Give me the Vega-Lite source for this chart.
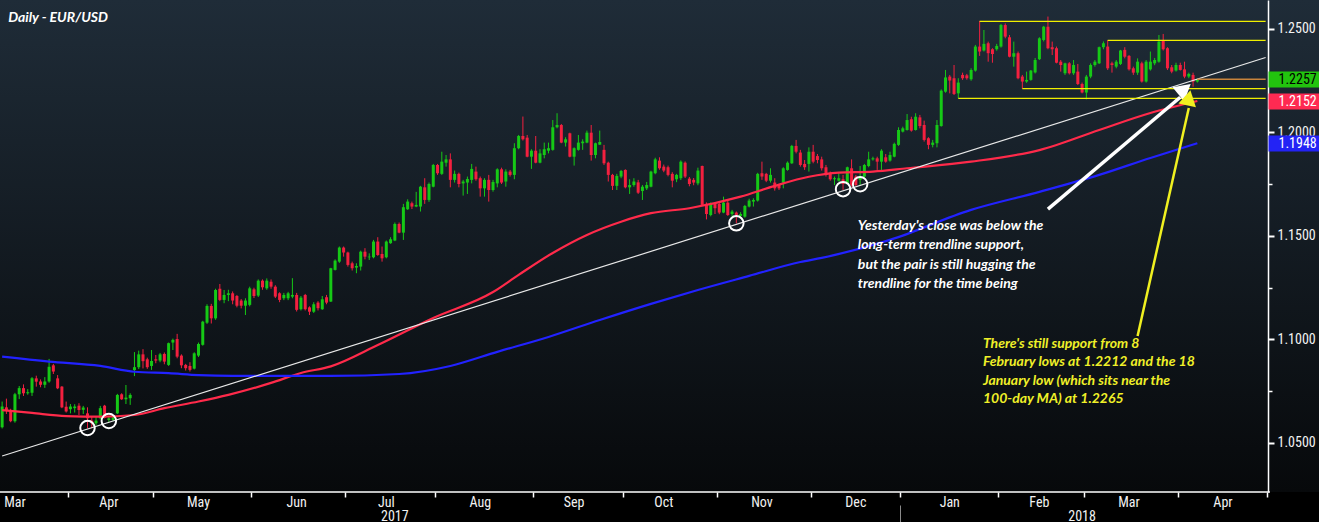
{
"$schema":"https://vega.github.io/schema/vega-lite/v6.json",
"width":1319,"height":492,
"autosize":{"type":"none"},
"padding":{"left":0,"top":0,"right":0,"bottom":30},
"background":"#000000",
"config":{
 "view":{"stroke":null,"fill":{"gradient":"linear","x1":0,"y1":0,"x2":0,"y2":1,"stops":[{"offset":0,"color":"#1f2c38"},{"offset":1,"color":"#07090b"}]}},
 "axis":{"grid":false,"title":null,"labelFont":"Liberation Sans Narrow, Roboto Condensed, Arial Narrow, Roboto, sans-serif","labelColor":"#f2f2f2","labelFontSize":14,"labelOverlap":false,"labelFlush":false}
},
"datasets":{
"candles":[
{"d":"2017-03-10","o":1.0576,"h":1.0700,"l":1.0570,"c":1.0676},
{"d":"2017-03-13","o":1.0672,"h":1.0714,"l":1.0640,"c":1.0655},
{"d":"2017-03-14","o":1.0655,"h":1.0665,"l":1.0600,"c":1.0605},
{"d":"2017-03-15","o":1.0605,"h":1.0742,"l":1.0598,"c":1.0735},
{"d":"2017-03-16","o":1.0735,"h":1.0775,"l":1.0712,"c":1.0765},
{"d":"2017-03-17","o":1.0765,"h":1.0783,"l":1.0727,"c":1.0740},
{"d":"2017-03-20","o":1.0740,"h":1.0760,"l":1.0733,"c":1.0745},
{"d":"2017-03-21","o":1.0742,"h":1.0818,"l":1.0727,"c":1.0812},
{"d":"2017-03-22","o":1.0812,"h":1.0825,"l":1.0772,"c":1.0796},
{"d":"2017-03-23","o":1.0797,"h":1.0807,"l":1.0769,"c":1.0781},
{"d":"2017-03-24","o":1.0781,"h":1.0818,"l":1.0766,"c":1.0797},
{"d":"2017-03-27","o":1.0797,"h":1.0906,"l":1.0791,"c":1.0868},
{"d":"2017-03-28","o":1.0875,"h":1.0882,"l":1.0833,"c":1.0845},
{"d":"2017-03-29","o":1.0812,"h":1.0828,"l":1.0760,"c":1.0764},
{"d":"2017-03-30","o":1.0772,"h":1.0775,"l":1.0668,"c":1.0672},
{"d":"2017-03-31","o":1.0675,"h":1.0700,"l":1.0647,"c":1.0652},
{"d":"2017-04-03","o":1.0663,"h":1.0688,"l":1.0643,"c":1.0676},
{"d":"2017-04-04","o":1.0668,"h":1.0687,"l":1.0647,"c":1.0676},
{"d":"2017-04-05","o":1.0680,"h":1.0692,"l":1.0635,"c":1.0659},
{"d":"2017-04-06","o":1.0660,"h":1.0679,"l":1.0640,"c":1.0671},
{"d":"2017-04-07","o":1.0643,"h":1.0672,"l":1.0571,"c":1.0619},
{"d":"2017-04-10","o":1.0608,"h":1.0627,"l":1.0571,"c":1.0595},
{"d":"2017-04-11","o":1.0595,"h":1.0627,"l":1.0587,"c":1.0608},
{"d":"2017-04-12","o":1.0619,"h":1.0679,"l":1.0614,"c":1.0668},
{"d":"2017-04-13","o":1.0680,"h":1.0684,"l":1.0619,"c":1.0622},
{"d":"2017-04-14","o":1.0611,"h":1.0627,"l":1.0600,"c":1.0619},
{"d":"2017-04-17","o":1.0611,"h":1.0630,"l":1.0606,"c":1.0624},
{"d":"2017-04-18","o":1.0643,"h":1.0737,"l":1.0640,"c":1.0732},
{"d":"2017-04-19","o":1.0735,"h":1.0740,"l":1.0708,"c":1.0711},
{"d":"2017-04-20","o":1.0711,"h":1.0780,"l":1.0688,"c":1.0719},
{"d":"2017-04-21","o":1.0716,"h":1.0740,"l":1.0684,"c":1.0732},
{"d":"2017-04-24","o":1.0852,"h":1.0939,"l":1.0823,"c":1.0866},
{"d":"2017-04-25","o":1.0866,"h":1.0946,"l":1.0857,"c":1.0928},
{"d":"2017-04-26","o":1.0928,"h":1.0953,"l":1.0860,"c":1.0895},
{"d":"2017-04-27","o":1.0904,"h":1.0912,"l":1.0858,"c":1.0866},
{"d":"2017-04-28","o":1.0872,"h":1.0949,"l":1.0853,"c":1.0896},
{"d":"2017-05-01","o":1.0904,"h":1.0925,"l":1.0885,"c":1.0898},
{"d":"2017-05-02","o":1.0898,"h":1.0935,"l":1.0890,"c":1.0928},
{"d":"2017-05-03","o":1.0930,"h":1.0937,"l":1.0880,"c":1.0893},
{"d":"2017-05-04","o":1.0877,"h":1.0985,"l":1.0872,"c":1.0982},
{"d":"2017-05-05","o":1.0985,"h":1.1004,"l":1.0949,"c":1.0998},
{"d":"2017-05-08","o":1.1002,"h":1.1027,"l":1.0909,"c":1.0917},
{"d":"2017-05-09","o":1.0922,"h":1.0928,"l":1.0861,"c":1.0875},
{"d":"2017-05-10","o":1.0877,"h":1.0882,"l":1.0850,"c":1.0861},
{"d":"2017-05-11","o":1.0872,"h":1.0890,"l":1.0845,"c":1.0853},
{"d":"2017-05-12","o":1.0859,"h":1.0938,"l":1.0855,"c":1.0933},
{"d":"2017-05-15","o":1.0922,"h":1.0985,"l":1.0915,"c":1.0978},
{"d":"2017-05-16","o":1.0974,"h":1.1090,"l":1.0970,"c":1.1086},
{"d":"2017-05-17","o":1.1081,"h":1.1170,"l":1.1075,"c":1.1162},
{"d":"2017-05-18","o":1.1162,"h":1.1172,"l":1.1077,"c":1.1102},
{"d":"2017-05-19","o":1.1102,"h":1.1245,"l":1.1095,"c":1.1239},
{"d":"2017-05-22","o":1.1245,"h":1.1268,"l":1.1185,"c":1.1191},
{"d":"2017-05-23","o":1.1191,"h":1.1239,"l":1.1175,"c":1.1215},
{"d":"2017-05-24","o":1.1215,"h":1.1240,"l":1.1185,"c":1.1223},
{"d":"2017-05-25","o":1.1223,"h":1.1232,"l":1.1170,"c":1.1188},
{"d":"2017-05-26","o":1.1210,"h":1.1215,"l":1.1155,"c":1.1163},
{"d":"2017-05-29","o":1.1188,"h":1.1195,"l":1.1150,"c":1.1163},
{"d":"2017-05-30","o":1.1163,"h":1.1199,"l":1.1118,"c":1.1188},
{"d":"2017-05-31","o":1.1167,"h":1.1255,"l":1.1160,"c":1.1247},
{"d":"2017-06-01","o":1.1242,"h":1.1250,"l":1.1200,"c":1.1210},
{"d":"2017-06-02","o":1.1212,"h":1.1290,"l":1.1205,"c":1.1284},
{"d":"2017-06-05","o":1.1284,"h":1.1290,"l":1.1240,"c":1.1252},
{"d":"2017-06-06","o":1.1247,"h":1.1295,"l":1.1240,"c":1.1284},
{"d":"2017-06-07","o":1.1279,"h":1.1290,"l":1.1245,"c":1.1255},
{"d":"2017-06-08","o":1.1255,"h":1.1262,"l":1.1200,"c":1.1207},
{"d":"2017-06-09","o":1.1223,"h":1.1228,"l":1.1180,"c":1.1191},
{"d":"2017-06-12","o":1.1199,"h":1.1225,"l":1.1190,"c":1.1215},
{"d":"2017-06-13","o":1.1199,"h":1.1230,"l":1.1190,"c":1.1223},
{"d":"2017-06-14","o":1.1207,"h":1.1296,"l":1.1199,"c":1.1215},
{"d":"2017-06-15","o":1.1215,"h":1.1225,"l":1.1135,"c":1.1143},
{"d":"2017-06-16","o":1.1146,"h":1.1210,"l":1.1140,"c":1.1202},
{"d":"2017-06-19","o":1.1215,"h":1.1220,"l":1.1140,"c":1.1146},
{"d":"2017-06-20","o":1.1155,"h":1.1160,"l":1.1118,"c":1.1134},
{"d":"2017-06-21","o":1.1134,"h":1.1180,"l":1.1128,"c":1.1170},
{"d":"2017-06-22","o":1.1178,"h":1.1185,"l":1.1140,"c":1.1151},
{"d":"2017-06-23","o":1.1146,"h":1.1210,"l":1.1143,"c":1.1194},
{"d":"2017-06-26","o":1.1204,"h":1.1215,"l":1.1170,"c":1.1178},
{"d":"2017-06-27","o":1.1183,"h":1.1346,"l":1.1181,"c":1.1344},
{"d":"2017-06-28","o":1.1336,"h":1.1387,"l":1.1333,"c":1.1381},
{"d":"2017-06-29","o":1.1376,"h":1.1449,"l":1.1370,"c":1.1444},
{"d":"2017-06-30","o":1.1444,"h":1.1449,"l":1.1400,"c":1.1420},
{"d":"2017-07-03","o":1.1420,"h":1.1424,"l":1.1352,"c":1.1360},
{"d":"2017-07-04","o":1.1368,"h":1.1376,"l":1.1333,"c":1.1344},
{"d":"2017-07-05","o":1.1347,"h":1.1368,"l":1.1320,"c":1.1355},
{"d":"2017-07-06","o":1.1352,"h":1.1429,"l":1.1333,"c":1.1424},
{"d":"2017-07-07","o":1.1424,"h":1.1441,"l":1.1387,"c":1.1400},
{"d":"2017-07-10","o":1.1397,"h":1.1416,"l":1.1384,"c":1.1400},
{"d":"2017-07-11","o":1.1397,"h":1.1481,"l":1.1392,"c":1.1473},
{"d":"2017-07-12","o":1.1473,"h":1.1494,"l":1.1404,"c":1.1408},
{"d":"2017-07-13","o":1.1413,"h":1.1449,"l":1.1376,"c":1.1392},
{"d":"2017-07-14","o":1.1397,"h":1.1478,"l":1.1392,"c":1.1473},
{"d":"2017-07-17","o":1.1465,"h":1.1494,"l":1.1462,"c":1.1484},
{"d":"2017-07-18","o":1.1478,"h":1.1565,"l":1.1475,"c":1.1558},
{"d":"2017-07-19","o":1.1558,"h":1.1565,"l":1.1513,"c":1.1516},
{"d":"2017-07-20","o":1.1516,"h":1.1655,"l":1.1481,"c":1.1639},
{"d":"2017-07-21","o":1.1629,"h":1.1677,"l":1.1626,"c":1.1666},
{"d":"2017-07-24","o":1.1658,"h":1.1666,"l":1.1630,"c":1.1642},
{"d":"2017-07-25","o":1.1642,"h":1.1713,"l":1.1639,"c":1.1650},
{"d":"2017-07-26","o":1.1642,"h":1.1742,"l":1.1618,"c":1.1738},
{"d":"2017-07-27","o":1.1735,"h":1.1779,"l":1.1655,"c":1.1674},
{"d":"2017-07-28","o":1.1674,"h":1.1758,"l":1.1665,"c":1.1751},
{"d":"2017-07-31","o":1.1738,"h":1.1848,"l":1.1735,"c":1.1843},
{"d":"2017-08-01","o":1.1843,"h":1.1848,"l":1.1795,"c":1.1803},
{"d":"2017-08-02","o":1.1800,"h":1.1907,"l":1.1795,"c":1.1859},
{"d":"2017-08-03","o":1.1854,"h":1.1891,"l":1.1835,"c":1.1870},
{"d":"2017-08-04","o":1.1870,"h":1.1899,"l":1.1735,"c":1.1771},
{"d":"2017-08-07","o":1.1771,"h":1.1816,"l":1.1758,"c":1.1800},
{"d":"2017-08-08","o":1.1800,"h":1.1806,"l":1.1735,"c":1.1751},
{"d":"2017-08-09","o":1.1754,"h":1.1771,"l":1.1695,"c":1.1763},
{"d":"2017-08-10","o":1.1758,"h":1.1787,"l":1.1703,"c":1.1775},
{"d":"2017-08-11","o":1.1771,"h":1.1848,"l":1.1754,"c":1.1824},
{"d":"2017-08-14","o":1.1811,"h":1.1835,"l":1.1767,"c":1.1774},
{"d":"2017-08-15","o":1.1779,"h":1.1787,"l":1.1690,"c":1.1730},
{"d":"2017-08-16","o":1.1730,"h":1.1779,"l":1.1690,"c":1.1771},
{"d":"2017-08-17","o":1.1771,"h":1.1795,"l":1.1666,"c":1.1722},
{"d":"2017-08-18","o":1.1722,"h":1.1771,"l":1.1714,"c":1.1761},
{"d":"2017-08-21","o":1.1754,"h":1.1827,"l":1.1735,"c":1.1822},
{"d":"2017-08-22","o":1.1822,"h":1.1830,"l":1.1751,"c":1.1758},
{"d":"2017-08-23","o":1.1763,"h":1.1822,"l":1.1738,"c":1.1811},
{"d":"2017-08-24","o":1.1811,"h":1.1819,"l":1.1787,"c":1.1795},
{"d":"2017-08-25","o":1.1795,"h":1.1948,"l":1.1774,"c":1.1924},
{"d":"2017-08-28","o":1.1924,"h":1.1988,"l":1.1919,"c":1.1983},
{"d":"2017-08-29","o":1.1983,"h":1.2077,"l":1.1961,"c":1.1967},
{"d":"2017-08-30","o":1.1975,"h":1.1988,"l":1.1880,"c":1.1883},
{"d":"2017-08-31","o":1.1883,"h":1.1919,"l":1.1824,"c":1.1912},
{"d":"2017-09-01","o":1.1912,"h":1.1983,"l":1.1851,"c":1.1854},
{"d":"2017-09-04","o":1.1854,"h":1.1919,"l":1.1851,"c":1.1899},
{"d":"2017-09-05","o":1.1891,"h":1.1951,"l":1.1875,"c":1.1919},
{"d":"2017-09-06","o":1.1912,"h":1.1951,"l":1.1899,"c":1.1924},
{"d":"2017-09-07","o":1.1916,"h":1.2060,"l":1.1912,"c":1.2025},
{"d":"2017-09-08","o":1.2025,"h":1.2093,"l":1.2020,"c":1.2036},
{"d":"2017-09-11","o":1.2036,"h":1.2041,"l":1.1948,"c":1.1951},
{"d":"2017-09-12","o":1.1951,"h":1.1977,"l":1.1932,"c":1.1967},
{"d":"2017-09-13","o":1.1996,"h":1.1999,"l":1.1880,"c":1.1883},
{"d":"2017-09-14","o":1.1883,"h":1.1928,"l":1.1840,"c":1.1924},
{"d":"2017-09-15","o":1.1916,"h":1.1988,"l":1.1912,"c":1.1951},
{"d":"2017-09-18","o":1.1948,"h":1.1967,"l":1.1916,"c":1.1956},
{"d":"2017-09-19","o":1.1951,"h":1.2009,"l":1.1948,"c":1.1999},
{"d":"2017-09-20","o":1.1999,"h":1.2036,"l":1.1864,"c":1.1891},
{"d":"2017-09-21","o":1.1891,"h":1.1951,"l":1.1875,"c":1.1948},
{"d":"2017-09-22","o":1.1941,"h":1.2009,"l":1.1940,"c":1.1954},
{"d":"2017-09-25","o":1.1916,"h":1.1940,"l":1.1843,"c":1.1851},
{"d":"2017-09-26","o":1.1854,"h":1.1859,"l":1.1763,"c":1.1795},
{"d":"2017-09-27","o":1.1795,"h":1.1800,"l":1.1722,"c":1.1742},
{"d":"2017-09-28","o":1.1742,"h":1.1800,"l":1.1722,"c":1.1790},
{"d":"2017-09-29","o":1.1787,"h":1.1819,"l":1.1779,"c":1.1814},
{"d":"2017-10-02","o":1.1819,"h":1.1822,"l":1.1730,"c":1.1735},
{"d":"2017-10-03","o":1.1735,"h":1.1774,"l":1.1703,"c":1.1746},
{"d":"2017-10-04","o":1.1746,"h":1.1779,"l":1.1738,"c":1.1763},
{"d":"2017-10-05","o":1.1759,"h":1.1771,"l":1.1703,"c":1.1709},
{"d":"2017-10-06","o":1.1717,"h":1.1746,"l":1.1674,"c":1.1738},
{"d":"2017-10-09","o":1.1730,"h":1.1761,"l":1.1722,"c":1.1746},
{"d":"2017-10-10","o":1.1738,"h":1.1815,"l":1.1735,"c":1.1811},
{"d":"2017-10-11","o":1.1803,"h":1.1878,"l":1.1798,"c":1.1870},
{"d":"2017-10-12","o":1.1864,"h":1.1880,"l":1.1820,"c":1.1827},
{"d":"2017-10-13","o":1.1835,"h":1.1845,"l":1.1808,"c":1.1816},
{"d":"2017-10-16","o":1.1832,"h":1.1840,"l":1.1788,"c":1.1795},
{"d":"2017-10-17","o":1.1800,"h":1.1808,"l":1.1735,"c":1.1767},
{"d":"2017-10-18","o":1.1774,"h":1.1800,"l":1.1760,"c":1.1795},
{"d":"2017-10-19","o":1.1779,"h":1.1865,"l":1.1770,"c":1.1859},
{"d":"2017-10-20","o":1.1854,"h":1.1860,"l":1.1780,"c":1.1787},
{"d":"2017-10-23","o":1.1777,"h":1.1785,"l":1.1740,"c":1.1751},
{"d":"2017-10-24","o":1.1771,"h":1.1780,"l":1.1745,"c":1.1758},
{"d":"2017-10-25","o":1.1754,"h":1.1830,"l":1.1745,"c":1.1816},
{"d":"2017-10-26","o":1.1838,"h":1.1840,"l":1.1645,"c":1.1650},
{"d":"2017-10-27","o":1.1655,"h":1.1662,"l":1.1580,"c":1.1606},
{"d":"2017-10-30","o":1.1601,"h":1.1662,"l":1.1595,"c":1.1655},
{"d":"2017-10-31","o":1.1655,"h":1.1661,"l":1.1606,"c":1.1634},
{"d":"2017-11-01","o":1.1655,"h":1.1660,"l":1.1605,"c":1.1613},
{"d":"2017-11-02","o":1.1613,"h":1.1690,"l":1.1610,"c":1.1661},
{"d":"2017-11-03","o":1.1661,"h":1.1677,"l":1.1597,"c":1.1601},
{"d":"2017-11-06","o":1.1606,"h":1.1626,"l":1.1593,"c":1.1618},
{"d":"2017-11-07","o":1.1613,"h":1.1618,"l":1.1561,"c":1.1601},
{"d":"2017-11-08","o":1.1597,"h":1.1615,"l":1.1590,"c":1.1606},
{"d":"2017-11-09","o":1.1593,"h":1.1650,"l":1.1588,"c":1.1645},
{"d":"2017-11-10","o":1.1642,"h":1.1680,"l":1.1638,"c":1.1671},
{"d":"2017-11-13","o":1.1666,"h":1.1682,"l":1.1642,"c":1.1674},
{"d":"2017-11-14","o":1.1671,"h":1.1805,"l":1.1666,"c":1.1800},
{"d":"2017-11-15","o":1.1803,"h":1.1859,"l":1.1771,"c":1.1787},
{"d":"2017-11-16","o":1.1800,"h":1.1805,"l":1.1760,"c":1.1767},
{"d":"2017-11-17","o":1.1767,"h":1.1827,"l":1.1758,"c":1.1795},
{"d":"2017-11-20","o":1.1758,"h":1.1779,"l":1.1719,"c":1.1730},
{"d":"2017-11-21","o":1.1746,"h":1.1750,"l":1.1722,"c":1.1730},
{"d":"2017-11-22","o":1.1758,"h":1.1832,"l":1.1730,"c":1.1827},
{"d":"2017-11-23","o":1.1819,"h":1.1860,"l":1.1815,"c":1.1854},
{"d":"2017-11-24","o":1.1851,"h":1.1940,"l":1.1848,"c":1.1935},
{"d":"2017-11-27","o":1.1935,"h":1.1964,"l":1.1899,"c":1.1907},
{"d":"2017-11-28","o":1.1903,"h":1.1916,"l":1.1835,"c":1.1843},
{"d":"2017-11-29","o":1.1848,"h":1.1867,"l":1.1819,"c":1.1832},
{"d":"2017-11-30","o":1.1848,"h":1.1928,"l":1.1811,"c":1.1907},
{"d":"2017-12-01","o":1.1907,"h":1.1940,"l":1.1851,"c":1.1859},
{"d":"2017-12-04","o":1.1886,"h":1.1896,"l":1.1851,"c":1.1867},
{"d":"2017-12-05","o":1.1870,"h":1.1883,"l":1.1816,"c":1.1827},
{"d":"2017-12-06","o":1.1832,"h":1.1843,"l":1.1787,"c":1.1795},
{"d":"2017-12-07","o":1.1803,"h":1.1811,"l":1.1767,"c":1.1774},
{"d":"2017-12-08","o":1.1774,"h":1.1787,"l":1.1746,"c":1.1779},
{"d":"2017-12-11","o":1.1767,"h":1.1803,"l":1.1763,"c":1.1779},
{"d":"2017-12-12","o":1.1774,"h":1.1795,"l":1.1722,"c":1.1751},
{"d":"2017-12-13","o":1.1754,"h":1.1835,"l":1.1751,"c":1.1832},
{"d":"2017-12-14","o":1.1827,"h":1.1870,"l":1.1738,"c":1.1746},
{"d":"2017-12-15","o":1.1787,"h":1.1795,"l":1.1740,"c":1.1746},
{"d":"2017-12-18","o":1.1771,"h":1.1838,"l":1.1746,"c":1.1787},
{"d":"2017-12-19","o":1.1787,"h":1.1848,"l":1.1779,"c":1.1843},
{"d":"2017-12-20","o":1.1838,"h":1.1907,"l":1.1832,"c":1.1870},
{"d":"2017-12-21","o":1.1870,"h":1.1883,"l":1.1864,"c":1.1875},
{"d":"2017-12-22","o":1.1875,"h":1.1883,"l":1.1819,"c":1.1859},
{"d":"2017-12-25","o":1.1859,"h":1.1919,"l":1.1819,"c":1.1912},
{"d":"2017-12-26","o":1.1880,"h":1.1896,"l":1.1854,"c":1.1859},
{"d":"2017-12-27","o":1.1864,"h":1.1907,"l":1.1859,"c":1.1891},
{"d":"2017-12-28","o":1.1883,"h":1.1951,"l":1.1880,"c":1.1945},
{"d":"2017-12-29","o":1.1940,"h":1.2025,"l":1.1935,"c":1.2012},
{"d":"2018-01-01","o":1.2004,"h":1.2028,"l":1.2000,"c":1.2020},
{"d":"2018-01-02","o":1.2012,"h":1.2089,"l":1.2009,"c":1.2060},
{"d":"2018-01-03","o":1.2064,"h":1.2076,"l":1.2004,"c":1.2009},
{"d":"2018-01-04","o":1.2012,"h":1.2093,"l":1.2009,"c":1.2076},
{"d":"2018-01-05","o":1.2073,"h":1.2085,"l":1.2020,"c":1.2031},
{"d":"2018-01-08","o":1.2036,"h":1.2057,"l":1.1956,"c":1.1964},
{"d":"2018-01-09","o":1.1972,"h":1.1977,"l":1.1919,"c":1.1940},
{"d":"2018-01-10","o":1.1940,"h":1.1964,"l":1.1928,"c":1.1951},
{"d":"2018-01-11","o":1.1948,"h":1.2060,"l":1.1928,"c":1.2036},
{"d":"2018-01-12","o":1.2031,"h":1.2208,"l":1.2028,"c":1.2202},
{"d":"2018-01-15","o":1.2197,"h":1.2302,"l":1.2192,"c":1.2266},
{"d":"2018-01-16","o":1.2270,"h":1.2278,"l":1.2189,"c":1.2251},
{"d":"2018-01-17","o":1.2262,"h":1.2326,"l":1.2181,"c":1.2186},
{"d":"2018-01-18","o":1.2189,"h":1.2262,"l":1.2165,"c":1.2241},
{"d":"2018-01-19","o":1.2278,"h":1.2289,"l":1.2254,"c":1.2262},
{"d":"2018-01-22","o":1.2276,"h":1.2283,"l":1.2255,"c":1.2262},
{"d":"2018-01-23","o":1.2257,"h":1.2310,"l":1.2250,"c":1.2302},
{"d":"2018-01-24","o":1.2299,"h":1.2423,"l":1.2294,"c":1.2415},
{"d":"2018-01-25","o":1.2415,"h":1.2539,"l":1.2370,"c":1.2391},
{"d":"2018-01-26","o":1.2396,"h":1.2495,"l":1.2391,"c":1.2428},
{"d":"2018-01-29","o":1.2431,"h":1.2439,"l":1.2342,"c":1.2383},
{"d":"2018-01-30","o":1.2402,"h":1.2407,"l":1.2337,"c":1.2379},
{"d":"2018-01-31","o":1.2402,"h":1.2428,"l":1.2395,"c":1.2418},
{"d":"2018-02-01","o":1.2415,"h":1.2524,"l":1.2410,"c":1.2519},
{"d":"2018-02-02","o":1.2519,"h":1.2527,"l":1.2455,"c":1.2463},
{"d":"2018-02-05","o":1.2460,"h":1.2471,"l":1.2363,"c":1.2366},
{"d":"2018-02-06","o":1.2366,"h":1.2439,"l":1.2318,"c":1.2383},
{"d":"2018-02-07","o":1.2383,"h":1.2391,"l":1.2257,"c":1.2262},
{"d":"2018-02-08","o":1.2270,"h":1.2278,"l":1.2212,"c":1.2246},
{"d":"2018-02-09","o":1.2246,"h":1.2294,"l":1.2240,"c":1.2254},
{"d":"2018-02-12","o":1.2254,"h":1.2302,"l":1.2250,"c":1.2299},
{"d":"2018-02-13","o":1.2290,"h":1.2360,"l":1.2285,"c":1.2350},
{"d":"2018-02-14","o":1.2354,"h":1.2460,"l":1.2350,"c":1.2455},
{"d":"2018-02-15","o":1.2447,"h":1.2515,"l":1.2440,"c":1.2511},
{"d":"2018-02-16","o":1.2511,"h":1.2560,"l":1.2402,"c":1.2407},
{"d":"2018-02-19","o":1.2412,"h":1.2439,"l":1.2374,"c":1.2402},
{"d":"2018-02-20","o":1.2407,"h":1.2415,"l":1.2334,"c":1.2337},
{"d":"2018-02-21","o":1.2342,"h":1.2350,"l":1.2294,"c":1.2326},
{"d":"2018-02-22","o":1.2286,"h":1.2337,"l":1.2278,"c":1.2334},
{"d":"2018-02-23","o":1.2334,"h":1.2340,"l":1.2280,"c":1.2286},
{"d":"2018-02-26","o":1.2286,"h":1.2350,"l":1.2278,"c":1.2326},
{"d":"2018-02-27","o":1.2294,"h":1.2331,"l":1.2229,"c":1.2234},
{"d":"2018-02-28","o":1.2234,"h":1.2241,"l":1.2189,"c":1.2193},
{"d":"2018-03-01","o":1.2193,"h":1.2278,"l":1.2160,"c":1.2270},
{"d":"2018-03-02","o":1.2270,"h":1.2334,"l":1.2262,"c":1.2326},
{"d":"2018-03-05","o":1.2326,"h":1.2350,"l":1.2318,"c":1.2342},
{"d":"2018-03-06","o":1.2334,"h":1.2415,"l":1.2331,"c":1.2412},
{"d":"2018-03-07","o":1.2412,"h":1.2440,"l":1.2402,"c":1.2431},
{"d":"2018-03-08","o":1.2415,"h":1.2446,"l":1.2302,"c":1.2310},
{"d":"2018-03-09","o":1.2334,"h":1.2342,"l":1.2289,"c":1.2326},
{"d":"2018-03-12","o":1.2318,"h":1.2350,"l":1.2310,"c":1.2342},
{"d":"2018-03-13","o":1.2331,"h":1.2399,"l":1.2326,"c":1.2396},
{"d":"2018-03-14","o":1.2399,"h":1.2412,"l":1.2358,"c":1.2366},
{"d":"2018-03-15","o":1.2370,"h":1.2374,"l":1.2299,"c":1.2305},
{"d":"2018-03-16","o":1.2310,"h":1.2318,"l":1.2278,"c":1.2289},
{"d":"2018-03-19","o":1.2289,"h":1.2358,"l":1.2278,"c":1.2342},
{"d":"2018-03-20","o":1.2334,"h":1.2342,"l":1.2241,"c":1.2246},
{"d":"2018-03-21","o":1.2246,"h":1.2350,"l":1.2241,"c":1.2342},
{"d":"2018-03-22","o":1.2305,"h":1.2391,"l":1.2299,"c":1.2342},
{"d":"2018-03-23","o":1.2334,"h":1.2360,"l":1.2325,"c":1.2350},
{"d":"2018-03-26","o":1.2342,"h":1.2471,"l":1.2337,"c":1.2439},
{"d":"2018-03-27","o":1.2444,"h":1.2476,"l":1.2396,"c":1.2402},
{"d":"2018-03-28","o":1.2407,"h":1.2412,"l":1.2302,"c":1.2310},
{"d":"2018-03-29","o":1.2315,"h":1.2326,"l":1.2286,"c":1.2294},
{"d":"2018-03-30","o":1.2299,"h":1.2337,"l":1.2294,"c":1.2326},
{"d":"2018-04-02","o":1.2326,"h":1.2337,"l":1.2299,"c":1.2302},
{"d":"2018-04-03","o":1.2305,"h":1.2342,"l":1.2262,"c":1.2270},
{"d":"2018-04-04","o":1.2270,"h":1.2289,"l":1.2262,"c":1.2283},
{"d":"2018-04-05","o":1.2278,"h":1.2289,"l":1.2221,"c":1.2246},
{"d":"2018-04-06","o":1.2246,"h":1.2260,"l":1.2241,"c":1.2257}
],
"ma100":[
{"d":"2017-03-10","v":1.0659},{"d":"2017-03-21","v":1.0645},{"d":"2017-03-31","v":1.0630},{"d":"2017-04-12","v":1.0627},{"d":"2017-04-24","v":1.0635},{"d":"2017-05-03","v":1.0668},{"d":"2017-05-15","v":1.0700},{"d":"2017-05-24","v":1.0732},{"d":"2017-06-07","v":1.0790},{"d":"2017-06-16","v":1.0838},{"d":"2017-06-27","v":1.0870},{"d":"2017-07-12","v":1.0973},{"d":"2017-07-31","v":1.1104},{"d":"2017-08-18","v":1.1229},{"d":"2017-08-28","v":1.1312},{"d":"2017-09-07","v":1.1418},{"d":"2017-09-19","v":1.1505},{"d":"2017-09-29","v":1.1569},{"d":"2017-10-10","v":1.1610},{"d":"2017-10-23","v":1.1634},{"d":"2017-11-08","v":1.1690},{"d":"2017-11-20","v":1.1742},{"d":"2017-11-30","v":1.1786},{"d":"2017-12-11","v":1.1806},{"d":"2017-12-21","v":1.1811},{"d":"2018-01-02","v":1.1827},{"d":"2018-01-23","v":1.1859},{"d":"2018-02-14","v":1.1915},{"d":"2018-03-06","v":1.2012},{"d":"2018-03-22","v":1.2094},{"d":"2018-04-06","v":1.2152}
],
"ma200":[
{"d":"2017-03-10","v":1.0917},{"d":"2017-03-27","v":1.0893},{"d":"2017-04-12","v":1.0872},{"d":"2017-04-24","v":1.0844},{"d":"2017-05-04","v":1.0837},{"d":"2017-05-15","v":1.0828},{"d":"2017-05-25","v":1.0824},{"d":"2017-06-06","v":1.0824},{"d":"2017-06-27","v":1.0824},{"d":"2017-07-19","v":1.0833},{"d":"2017-08-04","v":1.0872},{"d":"2017-08-21","v":1.0940},{"d":"2017-09-06","v":1.1012},{"d":"2017-09-22","v":1.1094},{"d":"2017-10-10","v":1.1172},{"d":"2017-10-25","v":1.1239},{"d":"2017-11-10","v":1.1307},{"d":"2017-11-28","v":1.1374},{"d":"2017-12-05","v":1.1394},{"d":"2017-12-27","v":1.1481},{"d":"2018-01-23","v":1.1626},{"d":"2018-02-14","v":1.1713},{"d":"2018-03-06","v":1.1795},{"d":"2018-03-22","v":1.1877},{"d":"2018-04-06","v":1.1948}
],
"trend":[{"d":"2017-03-10","v":1.0437},{"d":"2018-04-30","v":1.2362}],
"levels":[{"d":"2018-01-25","v":1.2537},{"d":"2018-03-08","v":1.2445},{"d":"2018-02-08","v":1.2212},{"d":"2018-01-18","v":1.2165}],
"last":[{"d":"2018-04-06","v":1.2257}],
"touches":[{"d":"2017-04-07","v":1.0572},{"d":"2017-04-14","v":1.0606},{"d":"2017-11-07","v":1.1561},{"d":"2017-12-12","v":1.1726},{"d":"2017-12-18","v":1.1750}],
"arrowW":[{"d":"2018-02-16","v":1.1630,"d2":"2018-04-02","v2":1.2170}],
"arrowWHead":[{"d":"2018-04-03","v":1.2209}],
"arrowY":[{"d":"2018-03-19","v":1.1017,"d2":"2018-04-04","v2":1.2118}],
"arrowYHead":[{"d":"2018-04-04","v":1.2167}],
"noteW":[{"d":"2017-12-15","v":1.1582,"t":"Yesterday's close was below the\nlong-term trendline support,\nbut the pair is still hugging the\ntrendline for the time being"}],
"noteY":[{"d":"2018-01-26","v":1.1012,"t":"There's still support from 8\nFebruary lows at 1.2212 and the 18\nJanuary low (which sits near the\n100-day MA) at 1.2265"}],
"heading":[{"d":"2017-03-10","v":1.2553,"t":"Daily - EUR/USD"}]
},
"layer":[
{"data":{"name":"candles"},"mark":{"type":"rule","strokeWidth":1},
 "encoding":{
  "x":{"field":"d","type":"ordinal","scale":{"type":"band","paddingInner":0,"paddingOuter":0,"domain":[
"2017-03-10","2017-03-13","2017-03-14","2017-03-15","2017-03-16","2017-03-17","2017-03-20","2017-03-21","2017-03-22","2017-03-23","2017-03-24","2017-03-27","2017-03-28","2017-03-29","2017-03-30","2017-03-31",
"2017-04-03","2017-04-04","2017-04-05","2017-04-06","2017-04-07","2017-04-10","2017-04-11","2017-04-12","2017-04-13","2017-04-14","2017-04-17","2017-04-18","2017-04-19","2017-04-20","2017-04-21","2017-04-24","2017-04-25","2017-04-26","2017-04-27","2017-04-28",
"2017-05-01","2017-05-02","2017-05-03","2017-05-04","2017-05-05","2017-05-08","2017-05-09","2017-05-10","2017-05-11","2017-05-12","2017-05-15","2017-05-16","2017-05-17","2017-05-18","2017-05-19","2017-05-22","2017-05-23","2017-05-24","2017-05-25","2017-05-26","2017-05-29","2017-05-30","2017-05-31",
"2017-06-01","2017-06-02","2017-06-05","2017-06-06","2017-06-07","2017-06-08","2017-06-09","2017-06-12","2017-06-13","2017-06-14","2017-06-15","2017-06-16","2017-06-19","2017-06-20","2017-06-21","2017-06-22","2017-06-23","2017-06-26","2017-06-27","2017-06-28","2017-06-29","2017-06-30",
"2017-07-03","2017-07-04","2017-07-05","2017-07-06","2017-07-07","2017-07-10","2017-07-11","2017-07-12","2017-07-13","2017-07-14","2017-07-17","2017-07-18","2017-07-19","2017-07-20","2017-07-21","2017-07-24","2017-07-25","2017-07-26","2017-07-27","2017-07-28","2017-07-31",
"2017-08-01","2017-08-02","2017-08-03","2017-08-04","2017-08-07","2017-08-08","2017-08-09","2017-08-10","2017-08-11","2017-08-14","2017-08-15","2017-08-16","2017-08-17","2017-08-18","2017-08-21","2017-08-22","2017-08-23","2017-08-24","2017-08-25","2017-08-28","2017-08-29","2017-08-30","2017-08-31",
"2017-09-01","2017-09-04","2017-09-05","2017-09-06","2017-09-07","2017-09-08","2017-09-11","2017-09-12","2017-09-13","2017-09-14","2017-09-15","2017-09-18","2017-09-19","2017-09-20","2017-09-21","2017-09-22","2017-09-25","2017-09-26","2017-09-27","2017-09-28","2017-09-29",
"2017-10-02","2017-10-03","2017-10-04","2017-10-05","2017-10-06","2017-10-09","2017-10-10","2017-10-11","2017-10-12","2017-10-13","2017-10-16","2017-10-17","2017-10-18","2017-10-19","2017-10-20","2017-10-23","2017-10-24","2017-10-25","2017-10-26","2017-10-27","2017-10-30","2017-10-31",
"2017-11-01","2017-11-02","2017-11-03","2017-11-06","2017-11-07","2017-11-08","2017-11-09","2017-11-10","2017-11-13","2017-11-14","2017-11-15","2017-11-16","2017-11-17","2017-11-20","2017-11-21","2017-11-22","2017-11-23","2017-11-24","2017-11-27","2017-11-28","2017-11-29","2017-11-30",
"2017-12-01","2017-12-04","2017-12-05","2017-12-06","2017-12-07","2017-12-08","2017-12-11","2017-12-12","2017-12-13","2017-12-14","2017-12-15","2017-12-18","2017-12-19","2017-12-20","2017-12-21","2017-12-22","2017-12-25","2017-12-26","2017-12-27","2017-12-28","2017-12-29",
"2018-01-01","2018-01-02","2018-01-03","2018-01-04","2018-01-05","2018-01-08","2018-01-09","2018-01-10","2018-01-11","2018-01-12","2018-01-15","2018-01-16","2018-01-17","2018-01-18","2018-01-19","2018-01-22","2018-01-23","2018-01-24","2018-01-25","2018-01-26","2018-01-29","2018-01-30","2018-01-31",
"2018-02-01","2018-02-02","2018-02-05","2018-02-06","2018-02-07","2018-02-08","2018-02-09","2018-02-12","2018-02-13","2018-02-14","2018-02-15","2018-02-16","2018-02-19","2018-02-20","2018-02-21","2018-02-22","2018-02-23","2018-02-26","2018-02-27","2018-02-28",
"2018-03-01","2018-03-02","2018-03-05","2018-03-06","2018-03-07","2018-03-08","2018-03-09","2018-03-12","2018-03-13","2018-03-14","2018-03-15","2018-03-16","2018-03-19","2018-03-20","2018-03-21","2018-03-22","2018-03-23","2018-03-26","2018-03-27","2018-03-28","2018-03-29","2018-03-30",
"2018-04-02","2018-04-03","2018-04-04","2018-04-05","2018-04-06","2018-04-09","2018-04-10","2018-04-11","2018-04-12","2018-04-13","2018-04-16","2018-04-17","2018-04-18","2018-04-19","2018-04-20","2018-04-23","2018-04-24","2018-04-25","2018-04-26","2018-04-27","2018-04-30",
"2018-05-01","2018-05-02","2018-05-03","2018-05-04","2018-05-07","2018-05-08","2018-05-09","2018-05-10","2018-05-11","2018-05-14","2018-05-15","2018-05-16"]},
   "axis":{"orient":"bottom","values":["2017-04-03","2017-05-01","2017-06-01","2017-07-03","2017-08-01","2017-09-01","2017-10-02","2017-11-01","2017-12-01","2018-01-01","2018-02-01","2018-03-01","2018-04-02","2018-05-01"],"bandPosition":0,"labels":false,"domain":false,"ticks":true,"tickColor":"#ffffff","tickSize":5,"tickWidth":1.5,"zindex":1}},
  "y":{"field":"l","type":"quantitative","scale":{"domain":[1.0263,1.264],"nice":false,"zero":false},
   "axis":{"orient":"right","offset":-51,"values":[1.05,1.1,1.15,1.2,1.25],"format":".4f","domain":true,"domainColor":"#ffffff","domainWidth":1.5,"ticks":true,"tickColor":"#ffffff","tickSize":6,"tickWidth":2,"labelPadding":3,"zindex":1}},
  "y2":{"field":"h"},
  "color":{"condition":{"test":"datum.c >= datum.o","value":"#16c916"},"value":"#f3203f"}
 }},
{"data":{"name":"candles"},"mark":{"type":"bar","width":3},
 "encoding":{
  "x":{"field":"d","type":"ordinal","axis":{"orient":"bottom","values":["2017-03-15","2017-04-14","2017-05-15","2017-06-15","2017-07-14","2017-08-15","2017-09-14","2017-10-13","2017-11-15","2017-12-15","2018-01-16","2018-02-14","2018-03-15","2018-04-16"],"labelExpr":"utcFormat(toDate(datum.value), '%b')","labelAngle":0,"labelAlign":"center","labelBaseline":"top","ticks":false,"tickSize":0,"domain":false,"labelPadding":3,"labelFontSize":14,"zindex":1}},
  "y":{"field":"o","type":"quantitative","axis":{"orient":"right","offset":-51,"values":[1.075,1.125,1.175,1.225],"labels":false,"domain":false,"ticks":true,"tickColor":"#ffffff","tickSize":4,"tickWidth":1.5,"zindex":1}},
  "y2":{"field":"c"},
  "color":{"condition":{"test":"datum.c >= datum.o","value":"#16c916"},"value":"#f3203f"}
 }},
{"data":{"name":"ma100"},"mark":{"type":"line","strokeWidth":2.2,"color":"#ff2a4a","interpolate":"monotone"},
 "encoding":{
  "x":{"field":"d","type":"ordinal","axis":{"orient":"bottom","values":["2017-07-18","2018-02-28"],"labelExpr":"slice(datum.value, 0, 4)","labelAngle":0,"labelAlign":"center","labelBaseline":"top","domain":false,"ticks":false,"tickSize":0,"labelPadding":17,"labelFontSize":14,"zindex":1}},
  "y":{"field":"v","type":"quantitative","axis":{"orient":"right","offset":-51,"values":[1.2257,1.2152,1.1948],"format":".4f","domain":false,"ticks":true,"tickSize":51,"tickWidth":16,"tickColor":{"condition":[{"test":"datum.value > 1.22","value":"#22c40e"},{"test":"datum.value > 1.2","value":"#ff2a52"}],"value":"#2323f5"},"labelColor":{"condition":{"test":"datum.value > 1.22","value":"#000000"},"value":"#ffffff"},"labelPadding":-41,"labelFontSize":14,"zindex":2}}
 }},
{"data":{"name":"ma200"},"mark":{"type":"line","strokeWidth":2.2,"color":"#2222ff","interpolate":"monotone"},
 "encoding":{"x":{"field":"d","type":"ordinal","axis":{"orient":"bottom","offset":13,"values":["2018-01-01"],"bandPosition":0,"labels":false,"domain":false,"ticks":true,"tickSize":17,"tickWidth":1,"tickColor":"#8a8a8a","zindex":1}},"y":{"field":"v","type":"quantitative","axis":null}}},
{"data":{"name":"trend"},"mark":{"type":"line","strokeWidth":1.2,"color":"#e8e8e8"},
 "encoding":{"x":{"field":"d","type":"ordinal","axis":null},"y":{"field":"v","type":"quantitative","axis":null}}},
{"data":{"name":"levels"},"mark":{"type":"rule","strokeWidth":1.3,"color":"#f0f000"},
 "encoding":{"x":{"field":"d","type":"ordinal","axis":null},"x2":{"datum":"2018-04-30"},"y":{"field":"v","type":"quantitative","axis":null}}},
{"data":{"name":"last"},"mark":{"type":"rule","strokeWidth":1.3,"color":"#c8843c"},
 "encoding":{"x":{"field":"d","type":"ordinal","axis":null},"x2":{"datum":"2018-04-30"},"y":{"field":"v","type":"quantitative","axis":null}}},
{"data":{"values":[{}]},"mark":{"type":"rule","strokeWidth":1.5,"color":"#ffffff"},
 "encoding":{"x":{"datum":"2017-03-10","type":"ordinal","bandPosition":0,"axis":null},"x2":{"datum":"2018-05-01"},"y":{"datum":1.0263,"type":"quantitative","axis":null}}},
{"data":{"name":"touches"},"mark":{"type":"point","shape":"circle","filled":false,"color":"#ffffff","strokeWidth":2,"size":210,"opacity":1},
 "encoding":{"x":{"field":"d","type":"ordinal","axis":null},"y":{"field":"v","type":"quantitative","axis":null}}},
{"data":{"name":"arrowW"},"mark":{"type":"rule","strokeWidth":3.5,"color":"#ffffff"},
 "encoding":{"x":{"field":"d","type":"ordinal","axis":null},"x2":{"field":"d2"},"y":{"field":"v","type":"quantitative","axis":null},"y2":{"field":"v2"}}},
{"data":{"name":"arrowWHead"},"mark":{"type":"point","shape":"triangle-up","filled":true,"color":"#ffffff","size":340,"angle":50,"opacity":1},
 "encoding":{"x":{"field":"d","type":"ordinal","axis":null},"y":{"field":"v","type":"quantitative","axis":null}}},
{"data":{"name":"arrowY"},"mark":{"type":"rule","strokeWidth":2.5,"color":"#f0f020"},
 "encoding":{"x":{"field":"d","type":"ordinal","axis":null},"x2":{"field":"d2"},"y":{"field":"v","type":"quantitative","axis":null},"y2":{"field":"v2"}}},
{"data":{"name":"arrowYHead"},"mark":{"type":"point","shape":"triangle-up","filled":true,"color":"#f0f020","size":320,"angle":12,"opacity":1},
 "encoding":{"x":{"field":"d","type":"ordinal","axis":null},"y":{"field":"v","type":"quantitative","axis":null}}},
{"data":{"name":"noteW"},"mark":{"type":"text","align":"left","baseline":"top","dx":2,"lineBreak":"\n","lineHeight":19.5,"font":"Lato, DejaVu Sans, sans-serif","fontSize":14,"fontStyle":"italic","fontWeight":"bold","color":"#ffffff"},
 "encoding":{"x":{"field":"d","type":"ordinal","axis":null},"y":{"field":"v","type":"quantitative","axis":null},"text":{"field":"t"}}},
{"data":{"name":"noteY"},"mark":{"type":"text","align":"left","baseline":"top","dx":-1,"lineBreak":"\n","lineHeight":18.5,"font":"Lato, DejaVu Sans, sans-serif","fontSize":14,"fontStyle":"italic","fontWeight":"bold","color":"#f0f028"},
 "encoding":{"x":{"field":"d","type":"ordinal","axis":null},"y":{"field":"v","type":"quantitative","axis":null},"text":{"field":"t"}}},
{"data":{"name":"heading"},"mark":{"type":"text","align":"left","baseline":"middle","dx":6,"font":"Lato, DejaVu Sans, sans-serif","fontSize":14,"fontStyle":"italic","fontWeight":"bold","color":"#ffffff"},
 "encoding":{"x":{"field":"d","type":"ordinal","axis":null},"y":{"field":"v","type":"quantitative","axis":null},"text":{"field":"t"}}}
],
"resolve":{"axis":{"x":"independent","y":"independent"}}
}
